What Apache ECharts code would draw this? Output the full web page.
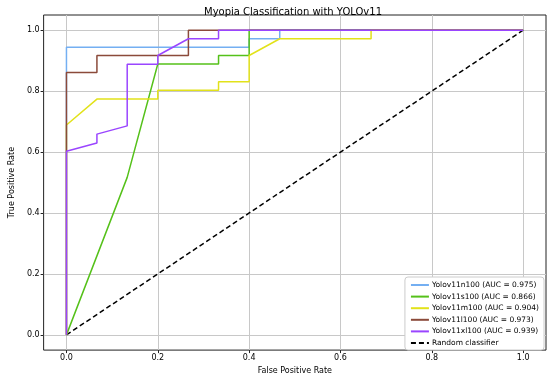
<!DOCTYPE html>
<html>
<head>
<meta charset="utf-8">
<script src="https://cdn.jsdelivr.net/npm/echarts@6/dist/echarts.min.js"></script>
<style>html,body{margin:0;padding:0;background:#fff}#c{width:550px;height:380px}</style>
</head>
<body>
<div id="c"></div>
<script>
var tickValues = [0, 0.2, 0.4, 0.6, 0.8, 1.0];
var seriesNames = [
  'Yolov11n100 (AUC = 0.975)',
  'Yolov11s100 (AUC = 0.866)',
  'Yolov11m100 (AUC = 0.904)',
  'Yolov11l100 (AUC = 0.973)',
  'Yolov11xl100 (AUC = 0.939)',
  'Random classifier'
];
var fprN = [0, 0, 0.4, 0.4, 0.467, 0.467, 1];
var tprN = [0, 0.944, 0.944, 0.972, 0.972, 1, 1];
var fprS = [0, 0.133, 0.133, 0.2, 0.333, 0.333, 0.4, 0.4, 1];
var tprS = [0, 0.517, 0.52, 0.889, 0.889, 0.917, 0.917, 1, 1];
var fprM = [0, 0, 0.0667, 0.2, 0.2, 0.333, 0.333, 0.4, 0.4, 0.467, 0.667, 0.667, 1];
var tprM = [0, 0.689, 0.774, 0.774, 0.803, 0.803, 0.831, 0.831, 0.917, 0.972, 0.972, 1, 1];
var fprL = [0, 0, 0.0667, 0.0667, 0.267, 0.267, 1];
var tprL = [0, 0.861, 0.861, 0.917, 0.917, 1, 1];
var fprXL = [0, 0, 0.0667, 0.0667, 0.133, 0.133, 0.2, 0.2, 0.267, 0.333, 0.333, 1];
var tprXL = [0, 0.603, 0.63, 0.659, 0.686, 0.888, 0.888, 0.917, 0.972, 0.972, 1, 1];
var fprRand = [0, 1];
var tprRand = [0, 1];

var colors = ['#74aff2', '#55c11a', '#e2e21a', '#8b4a3a', '#9a45ff', '#000000'];

function pairs(xs, ys) { return xs.map(function (x, i) { return [x, ys[i]]; }); }
var allX = [fprN, fprS, fprM, fprL, fprXL, fprRand];
var allY = [tprN, tprS, tprM, tprL, tprXL, tprRand];

var series = allX.map(function (xs, i) {
  return {
    name: seriesNames[i],
    type: 'line',
    data: pairs(xs, allY[i]),
    showSymbol: false,
    symbol: 'none',
    animation: false,
    lineStyle: { color: colors[i], width: 1.5, type: i === 5 ? [5, 3] : 'solid' },
    itemStyle: { color: colors[i] },
    z: i === 5 ? 1 : 2 + i
  };
});

var font = 'DejaVu Sans';
var chart = echarts.init(document.getElementById('c'), null, { renderer: 'canvas' });
chart.setOption({
  backgroundColor: '#fff',
  animation: false,
  title: {
    text: 'Myopia Classification with YOLOv11',
    left: 288, top: 2, textAlign: 'center',
    textStyle: { fontFamily: font, fontSize: 10, fontWeight: 'normal', color: '#000' }
  },
  grid: { left: 31, right: 4, top: 15, bottom: 24, show: true, borderColor: '#222', borderWidth: 1, backgroundColor: 'transparent' },
  xAxis: {
    type: 'value', min: -0.05, max: 1.05,
    name: 'False Positive Rate', nameLocation: 'middle', nameGap: 16,
    nameTextStyle: { fontFamily: font, fontSize: 8, color: '#000' },
    axisLine: { show: false, onZero: false },
    axisTick: { show: true, length: 3, inside: false, customValues: tickValues, lineStyle: { color: '#222' } },
    axisLabel: { customValues: tickValues, fontFamily: font, fontSize: 8, color: '#000', margin: 4,
      formatter: function (v) { return v.toFixed(1); } },
    splitLine: { show: true, customValues: tickValues, lineStyle: { color: '#c8c8c8', width: 1 } }
  },
  yAxis: {
    type: 'value', min: -0.05, max: 1.05,
    name: 'True Positive Rate', nameLocation: 'middle', nameGap: 23,
    nameTextStyle: { fontFamily: font, fontSize: 8, color: '#000' },
    axisLine: { show: false, onZero: false },
    axisTick: { show: true, length: 3, inside: false, customValues: tickValues, lineStyle: { color: '#222' } },
    axisLabel: { customValues: tickValues, fontFamily: font, fontSize: 8, color: '#000', margin: 4,
      formatter: function (v) { return v.toFixed(1); } },
    splitLine: { show: true, customValues: tickValues, lineStyle: { color: '#c8c8c8', width: 1 } }
  },
  legend: {
    data: seriesNames,
    orient: 'vertical',
    right: 6, bottom: 30,
    itemWidth: 18, itemHeight: 8, itemGap: 3.6,
    padding: [4, 5, 3, 5],
    backgroundColor: '#fff',
    borderColor: '#cccccc', borderWidth: 1, borderRadius: 3,
    itemStyle: { opacity: 0 },
    textStyle: { fontFamily: font, fontSize: 7.5, color: '#000', padding: [0, 0, 0, -2] }
  },
  series: series
});
</script>
</body>
</html>
